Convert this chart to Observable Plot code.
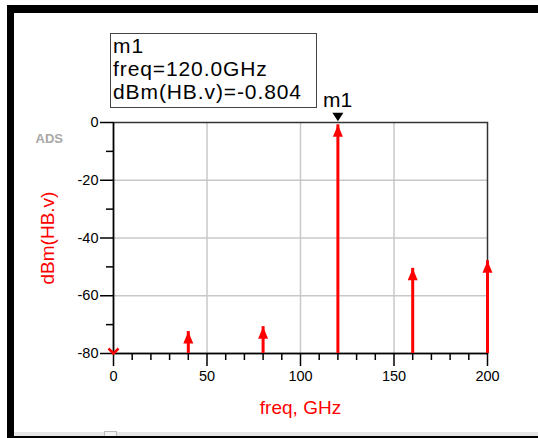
<!DOCTYPE html>
<html><head><meta charset="utf-8">
<script src="https://cdn.jsdelivr.net/npm/d3@7"></script>
<script src="https://cdn.jsdelivr.net/npm/@observablehq/plot@0.6"></script>
<style>
body{margin:0;background:#fff;font-family:"Liberation Sans",Arial,sans-serif;}
#wrap{position:relative;width:538px;height:438px;overflow:hidden;background:#fff;}
#wrap svg{position:absolute;left:0;top:0;}
.bar{position:absolute;background:#000;}
#mbox{position:absolute;left:110px;top:33px;width:203px;height:73px;border:1.5px solid #444;padding:0 0 0 2px;font-size:21px;letter-spacing:0.9px;line-height:22px;color:#000;white-space:nowrap;}
#mbox div{height:22px;padding-top:1px;}
</style></head><body><div id="wrap"></div>
<script>
const freqGHz = [0, 40, 80, 120, 160, 200];
const dBmValues = [-95, -72.4, -70.7, -0.804, -50.5, -47.9];
const yTicks = [0, -20, -40, -60, -80];
const yMinorTicks = [-10, -30, -50, -70];
const xTicks = [0, 50, 100, 150, 200];
const xMinorTicks = [10, 20, 30, 40, 60, 70, 80, 90, 110, 120, 130, 140, 160, 170, 180, 190];
const yGrid = [-20, -40, -60];
const xGrid = [50, 100, 150];
const markerName = "m1";
const markerFreq = 120;
const markerValue = -0.804;
const yDomain = [-80, 0];
const xDomain = [0, 200];

const data = freqGHz.map((f, i) => ({freq: f, v: dBmValues[i]}));
const shown = data.filter(d => d.v >= yDomain[0]);
const clipped = data.filter(d => d.v < yDomain[0]);
const marker = [{freq: markerFreq, v: markerValue}];

const arrowHead = {draw(ctx) { ctx.moveTo(0, 0); ctx.lineTo(5, 12); ctx.lineTo(-5, 12); ctx.closePath(); }};
const chevron = {draw(ctx) { ctx.moveTo(-5, -5); ctx.lineTo(0, 0); ctx.lineTo(5, -5); }};
const markTri = {draw(ctx) { ctx.moveTo(0, -3.5); ctx.lineTo(5.5, -12); ctx.lineTo(-5.5, -12); ctx.closePath(); }};

const fmt = d => String(d);
const chart = Plot.plot({
  width: 538, height: 438,
  marginLeft: 113, marginRight: 51, marginTop: 122, marginBottom: 85,
  x: {domain: xDomain, label: null},
  y: {domain: yDomain, label: null},
  style: {fontFamily: "'Liberation Sans', Arial, sans-serif", fontSize: "14px", color: "#000", background: "#fff"},
  marks: [
    Plot.ruleX(xGrid, {stroke: "#c8c8c8", strokeWidth: 1.5}),
    Plot.ruleY(yGrid, {stroke: "#c8c8c8", strokeWidth: 1.5}),
    Plot.frame({stroke: "#333", strokeWidth: 1.5}),
    Plot.ruleX([xDomain[0]], {stroke: "#000", strokeWidth: 1.5}),
    Plot.ruleY([yDomain[0]], {stroke: "#000", strokeWidth: 1.5}),
    Plot.axisY(yTicks, {tickSize: 13, tickPadding: 2, tickFormat: fmt, strokeWidth: 1.5, fontSize: 14.5, label: null}),
    Plot.axisY(yMinorTicks, {tickSize: 7, tickFormat: () => "", strokeWidth: 1.5, label: null}),
    Plot.axisX(xTicks, {tickSize: 13, tickPadding: 4, tickFormat: fmt, strokeWidth: 1.5, fontSize: 14.5, label: null}),
    Plot.axisX(xMinorTicks, {tickSize: 7, tickFormat: () => "", strokeWidth: 1.5, label: null}),
    Plot.ruleX(shown, {x: "freq", y1: () => yDomain[0], y2: "v", stroke: "#ff0000", strokeWidth: 3}),
    Plot.dot(shown, {x: "freq", y: "v", symbol: arrowHead, fill: "#ff0000", stroke: "none"}),
    Plot.dot(clipped, {x: "freq", y: () => yDomain[0], symbol: chevron, fill: "none", stroke: "#ff0000", strokeWidth: 2.5}),
    Plot.dot(marker, {x: "freq", y: "v", symbol: markTri, fill: "#000", stroke: "none"}),
    Plot.text(marker, {x: "freq", y: "v", text: () => markerName, textAnchor: "start", dx: -15, dy: -25, fontSize: 21, fill: "#000"}),
    Plot.text(["ADS"], {frameAnchor: "top-left", text: d => d, textAnchor: "start", dx: -78, dy: 11, fontSize: 13, fontWeight: 600, fill: "#a8a8a8"}),
    Plot.text(["dBm(HB.v)"], {frameAnchor: "left", text: d => d, textAnchor: "middle", rotate: -90, dx: -66, fontSize: 19, fill: "#ff0000"}),
    Plot.text(["freq, GHz"], {frameAnchor: "bottom", text: d => d, textAnchor: "middle", dy: 60, fontSize: 19, fill: "#ff0000"})
  ]
});
const wrap = document.getElementById("wrap");
wrap.appendChild(chart);

const box = document.createElement("div");
box.id = "mbox";
[markerName, "freq=" + markerFreq.toFixed(1) + "GHz", "dBm(HB.v)=" + markerValue].forEach(t => {
  const l = document.createElement("div"); l.textContent = t; box.appendChild(l);
});
wrap.appendChild(box);

function addBar(l, t, w, h, bg, extra) {
  const b = document.createElement("div");
  b.className = "bar";
  Object.assign(b.style, {left: l + "px", top: t + "px", width: w + "px", height: h + "px", background: bg}, extra || {});
  wrap.appendChild(b);
}
addBar(7, 5, 531, 8, "#000");
addBar(7, 5, 7, 433, "#000");
addBar(14, 432, 524, 4, "#e6e6e6");
addBar(104, 431, 11, 5, "#f2f2f2", {border: "1px solid #bbb"});
addBar(7, 436, 531, 2, "#000");
</script></body></html>
